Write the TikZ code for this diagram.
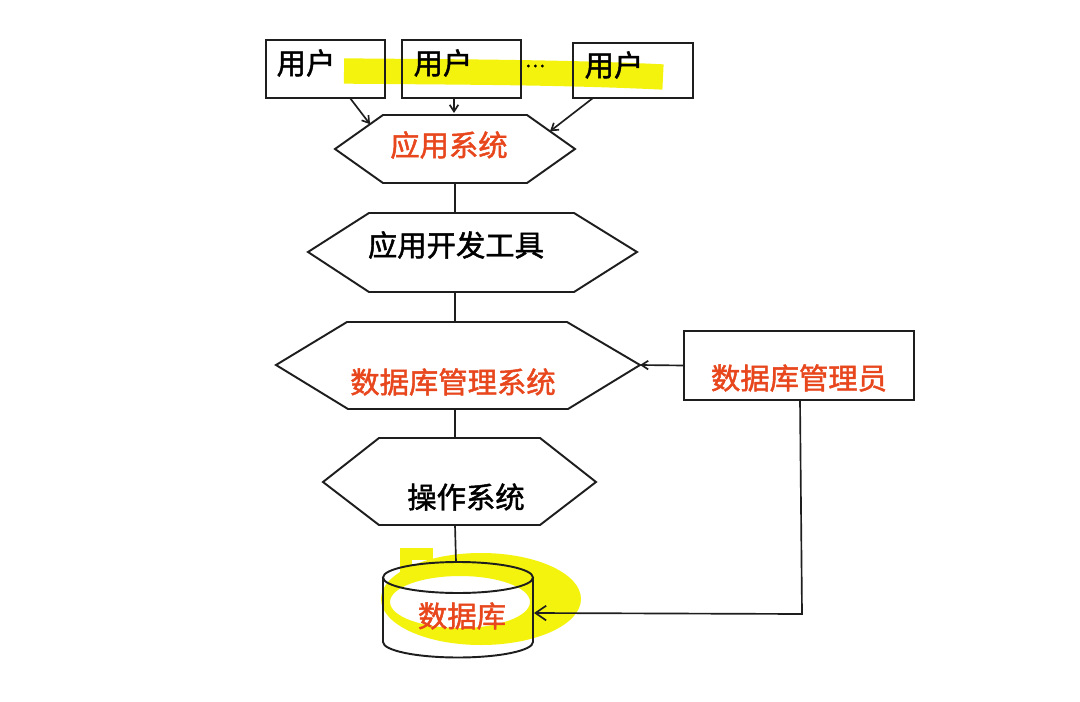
\documentclass[tikz,border=0pt]{standalone}
\usepackage{fontspec}
\setmainfont{Noto Sans CJK SC}[AutoFakeBold=1.6]
\usetikzlibrary{arrows.meta}
\definecolor{hl}{RGB}{244,243,14}
\definecolor{ored}{RGB}{232,70,28}
\definecolor{ln}{RGB}{30,30,30}
\begin{document}
\begin{tikzpicture}[x=0.75pt,y=-0.75pt,
  shp/.style={draw=ln, line width=1.45pt, line join=miter},
  ubox/.style={draw=ln, line width=1.45pt, inner sep=0pt, outer sep=0pt},
  conn/.style={draw=ln, line width=1.25pt},
  arr/.style={conn, -{Straight Barb[length=5pt,width=6.5pt]}},
  bigarr/.style={conn, -{Straight Barb[length=8pt,width=11pt]}},
  lbl/.style={font=\fontsize{22}{26}\selectfont\bfseries, inner sep=0pt, text=black},
  olbl/.style={lbl, text=ored},
  hlt/.style={draw=hl, line width=17pt}
]
\useasboundingbox[fill=white] (0,0) rectangle (1080,702);

% yellow highlights
\draw[hlt, line width=19pt] (344,71) .. controls (450,72) and (560,72) .. (663,77);
\fill[hl, even odd rule] (481,599) ellipse [x radius=100, y radius=46]
  (460,602) ellipse [x radius=70, y radius=26];
\fill[hl] (400,548) rectangle (433,560);
\fill[hl] (400,548) rectangle (412,576);

% user boxes
\node[ubox, minimum width=89.25pt, minimum height=43.5pt] (u1) at (325.5,69) {};
\node[ubox, minimum width=89.25pt, minimum height=43.5pt] (u2) at (461.5,69) {};
\node[ubox, minimum width=90pt, minimum height=41.25pt] (u3) at (633,70.5) {};
\node[lbl] (t1) at (306,63) {用户};
\node[lbl] (t2) at (443,63) {用户};
\node[lbl] (t3) at (614,65) {用户};
\node[lbl, font=\fontsize{14}{16}\selectfont\bfseries] (dots) at (535,66) {…};

% hexagon 1: 应用系统
\draw[shp] (335,149) coordinate (h1w) -- (383,115) -- (527,115) -- (575,149) coordinate (h1e) -- (527,183) -- (383,183) -- cycle;
\coordinate (h1n) at (455,115);
\coordinate (h1s) at (455,183);
\coordinate (h1a) at (370,124.2);
\coordinate (h1b) at (550,131.3);
\node[olbl] (l1) at (449,145) {应用系统};

% hexagon 2: 应用开发工具
\draw[shp] (308,252) coordinate (h2w) -- (369,213) -- (574,213) -- (637,252) coordinate (h2e) -- (574,292) -- (369,292) -- cycle;
\coordinate (h2n) at (455,213);
\coordinate (h2s) at (455,292);
\node[lbl] (l2) at (456,245) {应用开发工具};

% hexagon 3: 数据库管理系统
\draw[shp] (276,365) coordinate (h3w) -- (347,322) -- (567,322) -- (640,365) coordinate (h3e) -- (568,409) -- (348,409) -- cycle;
\coordinate (h3n) at (455,322);
\coordinate (h3s) at (455,409);
\node[olbl] (l3) at (453,382) {数据库管理系统};

% hexagon 4: 操作系统
\draw[shp] (323,482) coordinate (h4w) -- (379,438) -- (540,438) -- (596,482) coordinate (h4e) -- (540,525) -- (379,525) -- cycle;
\coordinate (h4n) at (455,438);
\coordinate (h4s) at (455,525);
\node[lbl] (l4) at (466,497) {操作系统};

% cylinder: 数据库
\draw[shp] (458,577.5) ellipse [x radius=75, y radius=15.5];
\draw[shp] (383,577.5) -- (383,642) arc [start angle=180, end angle=0, x radius=75, y radius=15.5] -- (533,577.5);
\coordinate (dbn) at (456,562);
\coordinate (dbe) at (534,613);
\node[olbl] (l5) at (462,616) {数据库};

% DBA box
\node[ubox, minimum width=172.5pt, minimum height=51.75pt] (dba) at (799,365.5) {};
\node[olbl] (l6) at (799,378) {数据库管理员};
\coordinate (corner) at (802,614);

% connectors
\draw[arr] (u1.south -| 350,0) -- (h1a);
\draw[arr] (u2.south -| 454,0) -- (454,113);
\draw[arr] (u3.south -| 593,0) -- (h1b);
\draw[conn] (h1s) -- (h2n);
\draw[conn] (h2s) -- (h3n);
\draw[conn] (h3s) -- (h4n);
\draw[conn] (h4s) -- (dbn);
\draw[arr] (dba.west) -- (h3e);
\draw[bigarr] (dba.south -| 800,0) -- (corner) -- (dbe);
\end{tikzpicture}
\end{document}
